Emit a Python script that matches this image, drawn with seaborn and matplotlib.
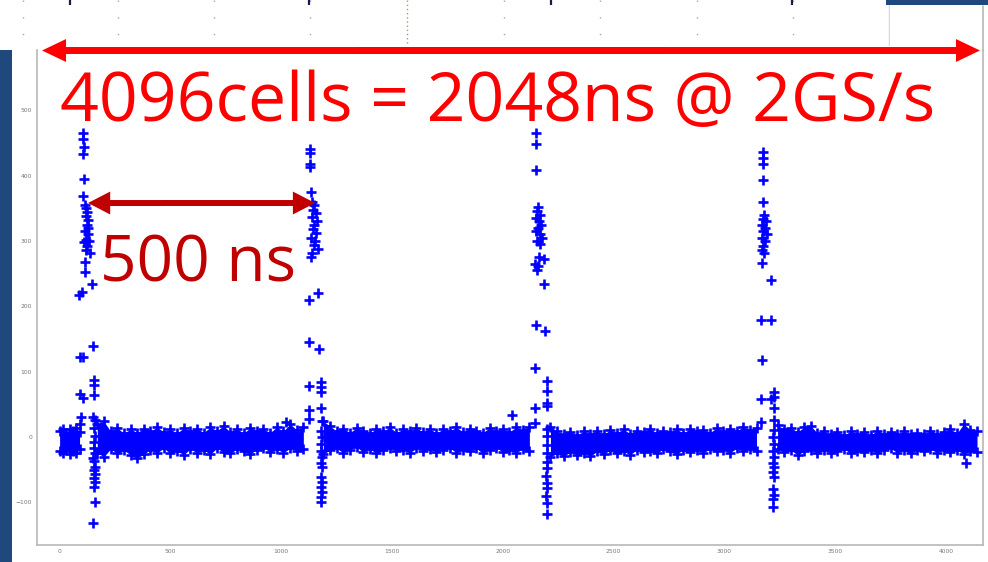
import numpy as np
import matplotlib
matplotlib.use("Agg")
import matplotlib.pyplot as plt
from matplotlib.patches import FancyArrowPatch, ArrowStyle, Rectangle
from matplotlib.lines import Line2D
import seaborn as sns

# ---------------------------------------------------------------------------
# Pedestal band of the DRS4 waveform: cell index knots with the upper / lower
# envelope of the baseline noise (ADC counts), one block between each pulse.
# ---------------------------------------------------------------------------
seg_a_x = np.arange(0, 91, 15)
seg_a_hi = [9, 13, 7, 12, 10, 14, 8]
seg_a_lo = [-21, -25, -19, -26, -22, -24, -18]

seg_b_x = np.arange(170, 1101, 30)
seg_b_hi = [20, 24, 9, 14, 6, 12, 7, 13, 9, 15, 8, 12, 6, 14, 9, 13,
            7, 15, 10, 17, 8, 13, 6, 14, 10, 12, 7, 15, 9, 20, 11, 16]
seg_b_lo = [-24, -30, -18, -25, -20, -27, -32, -26, -19, -24, -17, -25, -21, -27, -18, -24,
            -20, -26, -17, -23, -25, -18, -22, -26, -19, -16, -23, -18, -24, -17, -21, -18]

seg_c_x = np.arange(1190, 2121, 30)
seg_c_hi = [24, 17, 9, 13, 7, 14, 10, 6, 13, 9, 15, 7, 12, 9, 14, 8,
            13, 6, 12, 9, 15, 8, 13, 10, 7, 14, 9, 12, 8, 15, 11, 16]
seg_c_lo = [-26, -20, -17, -24, -19, -15, -23, -18, -25, -20, -16, -22, -19, -24, -17, -21,
            -18, -23, -20, -16, -24, -19, -22, -17, -25, -19, -16, -23, -20, -24, -18, -22]

seg_d_x = np.arange(2215, 3146, 30)
seg_d_hi = [16, 9, 4, 8, 3, 9, 5, 10, 4, 11, 7, 12, 5, 10, 8, 13,
            6, 10, 8, 12, 6, 13, 9, 11, 7, 14, 9, 12, 10, 15, 11, 14]
seg_d_lo = [-30, -25, -29, -23, -27, -24, -29, -22, -26, -20, -25, -22, -27, -19, -23, -21,
            -25, -18, -22, -26, -19, -23, -20, -24, -18, -22, -19, -24, -17, -21, -18, -22]

seg_e_x = np.arange(3240, 4141, 30)
seg_e_hi = [18, 12, 14, 8, 15, 17, 6, 9, 4, 8, 3, 9, 5, 8, 3, 10,
            5, 8, 4, 9, 5, 7, 4, 10, 5, 8, 12, 6, 20, 11, 9]
seg_e_lo = [-18, -23, -20, -27, -22, -19, -25, -20, -24, -21, -18, -25, -21, -23, -19, -25,
            -20, -17, -24, -20, -25, -19, -22, -18, -24, -19, -23, -20, -26, -21, -23]

# Samples of the four pulses and a few isolated outliers (cell, ADC counts)
spike_x = [
    # pulse 1
    105, 105, 108, 105, 108, 105,
    115, 120, 125, 118, 128, 122, 130, 116, 126, 120, 132, 110, 124, 118, 135,
    113, 113, 146, 87, 102, 150, 90, 105, 155, 155, 155, 90, 105, 95, 150, 160, 90,
    156, 158, 155, 157, 160,
    152, 156, 160, 154, 158, 155, 160, 156, 158, 150,
    # pulse 2
    1130, 1130, 1130, 1130, 1135,
    1140, 1150, 1145, 1155, 1138, 1160, 1148, 1142, 1158, 1135, 1152, 1146, 1165, 1140, 1135,
    1124, 1165, 1124, 1169, 1124, 1180, 1180, 1180, 1124, 1180, 1124, 1182,
    1180, 1182, 1179, 1181,
    1182, 1180, 1183, 1180, 1182, 1180, 1183, 1180, 1181,
    # pulse 3
    2152, 2152, 2152,
    2160, 2155, 2168, 2150, 2162, 2172, 2158, 2148, 2166, 2175, 2155, 2170,
    2162, 2187, 2146, 2160, 2155, 2187, 2149, 2191, 2146, 2201, 2201, 2198, 2201, 2146, 2146,
    2200, 2198, 2201, 2199,
    2198, 2200, 2196, 2201, 2198, 2195, 2200, 2198,
    # pulse 4
    3175, 3175, 3175, 3175, 3175,
    3180, 3172, 3188, 3168, 3185, 3176, 3192, 3170, 3182, 3175, 3168, 3180,
    3171, 3211, 3167, 3211, 3171, 3167, 3211, 3223, 3223, 3223, 3167, 3223,
    3222, 3220, 3223, 3221,
    3222, 3220, 3223, 3221, 3222, 3220, 3222, 3221, 3220,
    # isolated outliers
    1023, 2042, 4089,
]
spike_y = [
    465, 456, 443, 433, 394, 368,
    355, 350, 345, 338, 332, 325, 320, 315, 310, 302, 300, 298, 292, 286, 282,
    268, 252, 234, 218, 222, 140, 123, 123, 87, 80, 64, 66, 60, 31, 31, 26, 20,
    14, 2, -8, -17, -25,
    -32, -37, -45, -50, -57, -62, -69, -77, -99, -132,
    440, 434, 418, 413, 375,
    360, 355, 348, 342, 336, 330, 325, 318, 312, 305, 300, 294, 288, 282, 275,
    209, 220, 146, 134, 78, 85, 77, 69, 41, 45, 28, 24,
    10, 0, -11, -21,
    -31, -39, -46, -61, -69, -76, -84, -92, -99,
    465, 449, 409,
    352, 346, 340, 335, 330, 325, 320, 315, 310, 305, 300, 296,
    275, 272, 265, 262, 255, 234, 171, 163, 106, 86, 71, 52, 48, 44, 22,
    12, 1, -12, -24,
    -38, -48, -60, -70, -78, -90, -101, -117,
    436, 427, 417, 393, 360,
    339, 334, 330, 325, 320, 315, 310, 305, 300, 292, 286, 281,
    266, 241, 179, 179, 118, 59, 59, 69, 62, 45, 23, 26,
    11, 0, -10, -21,
    -31, -39, -46, -54, -61, -79, -89, -94, -107,
    23, 34, -40,
]

x_ticks = [0, 500, 1000, 1500, 2000, 2500, 3000, 3500, 4000]
y_ticks = [-100, 0, 100, 200, 300, 400, 500]

title_text = "4096cells = 2048ns @ 2GS/s"
period_text = "500 ns"
period_start, period_end, period_level = 128, 1153, 358

# grid and tick positions of the neighbouring plot strip at the top (pixels)
strip_grid = [23, 118, 214, 310, 504, 600, 697, 793]
strip_ticks = [70, 309, 551, 792]

W, H = 988, 562
BLUE = "#0000ff"
RED = "#ff0000"
DARK_RED = "#c00000"
NAVY = "#1f497d"

sns.set_style("white")
plt.rcParams["font.family"] = ["DejaVu Sans"]

fig = plt.figure(figsize=(W / 100, H / 100), dpi=100)
fig.patch.set_facecolor("white")

# ---------------- main waveform axes ----------------
ax = fig.add_axes([37 / W, 17 / H, 946 / W, 495 / H])
ax.set_facecolor("white")

segments = [(seg_a_x, seg_a_hi, seg_a_lo), (seg_b_x, seg_b_hi, seg_b_lo),
            (seg_c_x, seg_c_hi, seg_c_lo), (seg_d_x, seg_d_hi, seg_d_lo),
            (seg_e_x, seg_e_hi, seg_e_lo)]
band_x, band_y = [], []
for sx, shi, slo in segments:
    ax.fill_between(sx, slo, shi, color=BLUE, lw=0, zorder=2)
    band_x += list(sx) + list(sx)
    band_y += list(shi) + list(slo)

marker_kw = dict(marker="+", s=44, color=BLUE, linewidth=1.9, legend=False, zorder=3)
sns.scatterplot(x=band_x, y=band_y, ax=ax, **marker_kw)
sns.scatterplot(x=spike_x, y=spike_y, ax=ax, **marker_kw)

ax.set_xlim(-102, 4167)
ax.set_ylim(-165, 592)
ax.set_xticks(x_ticks)
ax.set_yticks(y_ticks)
ax.set_xlabel("")
ax.set_ylabel("")
ax.tick_params(axis="x", direction="in", length=2, width=0.8, color="#999999",
               labelsize=4.3, labelcolor="#777777", pad=3)
ax.tick_params(axis="y", direction="out", length=2, width=0.8, color="#999999",
               labelsize=4.3, labelcolor="#777777", pad=1.5)
ax.spines["top"].set_visible(False)
for side in ("left", "right", "bottom"):
    ax.spines[side].set_color("#b8b8b8")
    ax.spines[side].set_linewidth(1.2)

# period marker between two pulses (two overlapping halves, one head each)
period_style = ArrowStyle.Simple(head_length=16, head_width=16.5, tail_width=4.3)
third = (period_end - period_start) / 3
for tail, end in ((period_end - third, period_start), (period_start + third, period_end)):
    ax.add_patch(FancyArrowPatch((tail, period_level), (end, period_level),
                                 arrowstyle=period_style, mutation_scale=1,
                                 color=DARK_RED, lw=0, shrinkA=0, shrinkB=0, zorder=5))
ax.text(100 / W, 1 - 282 / H, period_text, transform=fig.transFigure,
        fontsize=46, family="Open Sans", color=DARK_RED, ha="left", va="baseline", zorder=6)

# ---------------- strip of the neighbouring plot ----------------
ax_top = fig.add_axes([0, 1 - 46 / H, 890 / W, 46 / H])
ax_top.set_xlim(0, 890)
ax_top.set_ylim(46, 0)
ax_top.axis("off")
ax_top.vlines(strip_grid, 0, 46, colors="#a8a8a8", lw=1.0, linestyles=(0, (1, 11)))
ax_top.vlines([407], 0, 46, colors="#a09a80", lw=1.0, linestyles=(0, (1, 2)))
ax_top.vlines(strip_ticks, 0, 5, colors="#1a1a4a", lw=1.6)
ax_top.vlines([889], 0, 46, colors="#c8dcef", lw=1.0)

# ---------------- slide decorations ----------------
fig.add_artist(Rectangle((0, 0), 12 / W, 512 / H, transform=fig.transFigure,
                         color=NAVY, lw=0))
fig.add_artist(Rectangle((886 / W, 1 - 5 / H), 102 / W, 5 / H, transform=fig.transFigure,
                         color=NAVY, lw=0))
fig.add_artist(Line2D([983 / W, 983 / W], [1 - 50 / H, 1 - 6 / H], transform=fig.transFigure,
                      color="#b8b8b8", lw=1.2))

# full record length arrow and caption (two overlapping halves, one head each)
span_style = ArrowStyle.Simple(head_length=17.3, head_width=16.5, tail_width=5.0)
ya = 1 - 50.5 / H
left_tip, right_tip = 42 / W, 980 / W
seg = (right_tip - left_tip) / 3
for tail, end in ((right_tip - seg, left_tip), (left_tip + seg, right_tip)):
    fig.add_artist(FancyArrowPatch((tail, ya), (end, ya), transform=fig.transFigure,
                                   arrowstyle=span_style, mutation_scale=1,
                                   color=RED, lw=0, shrinkA=0, shrinkB=0, zorder=10))
fig.text(60 / W, 1 - 121 / H, title_text, fontsize=49, family="Open Sans", color=RED,
         ha="left", va="baseline", zorder=11)

fig.savefig("out.png", dpi=100, facecolor="white")
